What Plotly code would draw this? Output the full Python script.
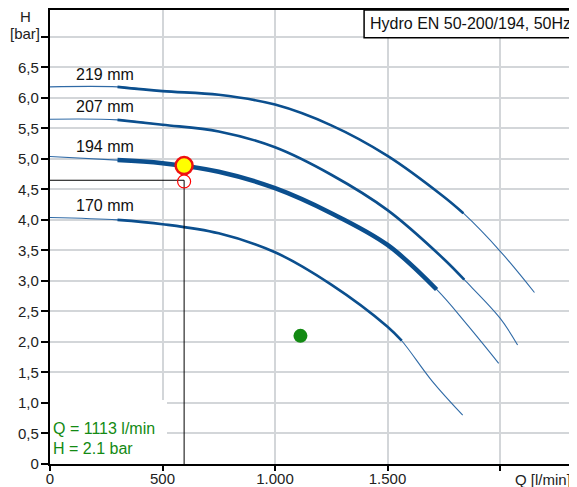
import plotly.graph_objects as go

# ---- data ----
q_219 = [0, 300, 500, 750, 1000, 1250, 1500, 1750, 1837, 2000, 2153]
h_219 = [6.18, 6.18, 6.11, 6.05, 5.89, 5.55, 5.05, 4.38, 4.11, 3.49, 2.81]
q_207 = [0, 300, 500, 750, 1000, 1250, 1500, 1750, 1841, 2000, 2078]
h_207 = [5.65, 5.64, 5.56, 5.45, 5.19, 4.74, 4.16, 3.36, 3.02, 2.39, 1.95]
q_194 = [0, 300, 500, 750, 1000, 1250, 1500, 1718, 1850, 1994]
h_194 = [5.04, 4.98, 4.93, 4.79, 4.52, 4.11, 3.59, 2.86, 2.30, 1.65]
q_170 = [0, 300, 500, 750, 1000, 1250, 1500, 1563, 1700, 1834]
h_170 = [4.04, 4.00, 3.93, 3.78, 3.47, 2.94, 2.25, 2.02, 1.35, 0.80]

curve_names = ["219 mm", "207 mm", "194 mm", "170 mm"]
thick_start = [300, 300, 300, 300]
thick_end = [1837, 1841, 1718, 1563]
label_q = [246, 246, 246, 246]
label_h = [6.39, 5.86, 5.20, 4.23]

duty_q, duty_h = 596, 4.89
req_q, req_h = 596, 4.63
req_line_h = 4.65
sys_q, sys_h = 1113, 2.1

x_tickvals = [0, 500, 1000, 1500, 2000]
x_ticktext = ["0", "500", "1.000", "1.500", ""]
y_tickvals = [0, 0.5, 1, 1.5, 2, 2.5, 3, 3.5, 4, 4.5, 5, 5.5, 6, 6.5, 7]
y_ticktext = ["0", "0,5", "1,0", "1,5", "2,0", "2,5", "3,0", "3,5", "4,0",
              "4,5", "5,0", "5,5", "6,0", "6,5", ""]

title_text = "Hydro EN 50-200/194, 50Hz"
info_lines = ["Q = 1113 l/min", "H = 2.1 bar"]

BLUE = "#0b4f8e"
THIN = "#2f6aa6"
GREEN = "#138a13"
FONT = "Arial, Liberation Sans, sans-serif"

fig = go.Figure()

curves = [(q_219, h_219), (q_207, h_207), (q_194, h_194), (q_170, h_170)]
for i, (qs, hs) in enumerate(curves):
    ts, te = thick_start[i], thick_end[i]
    mid_w = 4.5 if curve_names[i] == "194 mm" else 2.6
    fig.add_trace(go.Scatter(x=qs, y=hs, mode="lines",
                             line=dict(color=THIN, width=1.1, shape="spline", smoothing=1.0),
                             hoverinfo="skip", showlegend=False))
    mq = [q for q in qs if ts <= q <= te]
    mh = [hs[qs.index(q)] for q in mq]
    fig.add_trace(go.Scatter(x=mq, y=mh, mode="lines",
                             line=dict(color=BLUE, width=mid_w, shape="spline", smoothing=1.0),
                             hoverinfo="skip", showlegend=False))
    fig.add_annotation(x=label_q[i], y=label_h[i], text=curve_names[i], showarrow=False,
                       font=dict(size=16, color="#111", family=FONT))

# duty lines
fig.add_trace(go.Scatter(x=[0, req_q, req_q], y=[req_line_h, req_line_h, 0], mode="lines",
                         line=dict(color="black", width=1), showlegend=False, hoverinfo="skip"))
fig.add_trace(go.Scatter(x=[req_q], y=[req_h], mode="markers",
                         marker=dict(size=13, color="rgba(0,0,0,0)", line=dict(color="red", width=1.2)),
                         showlegend=False))
fig.add_trace(go.Scatter(x=[duty_q], y=[duty_h], mode="markers",
                         marker=dict(size=17, color="#ffff00", line=dict(color="#ee1111", width=2.5)),
                         showlegend=False))
fig.add_trace(go.Scatter(x=[sys_q], y=[sys_h], mode="markers",
                         marker=dict(size=14, color=GREEN, line=dict(width=0)), showlegend=False))

# white info box bottom-left
fig.add_shape(type="rect", xref="x", yref="y", x0=0, x1=520, y0=0, y1=1.05,
              fillcolor="white", line=dict(width=0), layer="between")
fig.add_annotation(x=0, y=0.574, xanchor="left", yanchor="middle", text=info_lines[0], showarrow=False,
                   font=dict(size=16, color=GREEN, family=FONT), xshift=1)
fig.add_annotation(x=0, y=0.246, xanchor="left", yanchor="middle", text=info_lines[1], showarrow=False,
                   font=dict(size=16, color=GREEN, family=FONT), xshift=1)

# title box
fig.add_shape(type="rect", xref="paper", yref="paper", x0=0.596, x1=1.02, y0=0.939, y1=1.0,
              fillcolor="white", line=dict(color="black", width=1.5), layer="above")
fig.add_annotation(xref="paper", yref="paper", x=0.603, y=0.970, xanchor="left", yanchor="middle",
                   text=title_text, showarrow=False, font=dict(size=16, color="#111", family=FONT))

# axis titles
fig.add_annotation(xref="paper", yref="paper", x=-0.0474, y=0.9846, xanchor="center", yanchor="middle",
                   text="H", showarrow=False, font=dict(size=15, color="#222", family=FONT))
fig.add_annotation(xref="paper", yref="paper", x=-0.0474, y=0.949, xanchor="center", yanchor="middle",
                   text="[bar]", showarrow=False, font=dict(size=15, color="#222", family=FONT))
fig.add_annotation(xref="paper", yref="paper", x=0.9355, y=-0.035, xanchor="center", yanchor="middle",
                   text="Q [l/min]", showarrow=False, font=dict(size=15, color="#222", family=FONT))

# the page body adds an 8px offset, so the figure is 8px smaller than the window
fig.update_layout(
    width=569, height=479,
    margin=dict(l=42, r=0, t=2, b=23, autoexpand=False),
    plot_bgcolor="white", paper_bgcolor="white",
    font=dict(family=FONT, size=15, color="#222"),
    showlegend=False,
    xaxis=dict(range=[0, 2342], tickvals=x_tickvals, ticktext=x_ticktext, automargin=False,
               ticks="outside", ticklen=5, tickwidth=2, tickcolor="black", ticklabelstandoff=-5,
               showline=True, linewidth=2, linecolor="black", mirror=True,
               showgrid=True, gridcolor="#d3d6d9", gridwidth=1.5, zeroline=False,
               tickfont=dict(size=15)),
    yaxis=dict(range=[0, 7.44], tickvals=y_tickvals, ticktext=y_ticktext, automargin=False,
               ticks="outside", ticklen=7, tickwidth=2, tickcolor="black", ticklabelstandoff=-1,
               showline=True, linewidth=2.2, linecolor="black",
               showgrid=True, gridcolor="#d3d6d9", gridwidth=1.5, zeroline=False,
               tickfont=dict(size=15)),
)

fig.write_html("out.html")
